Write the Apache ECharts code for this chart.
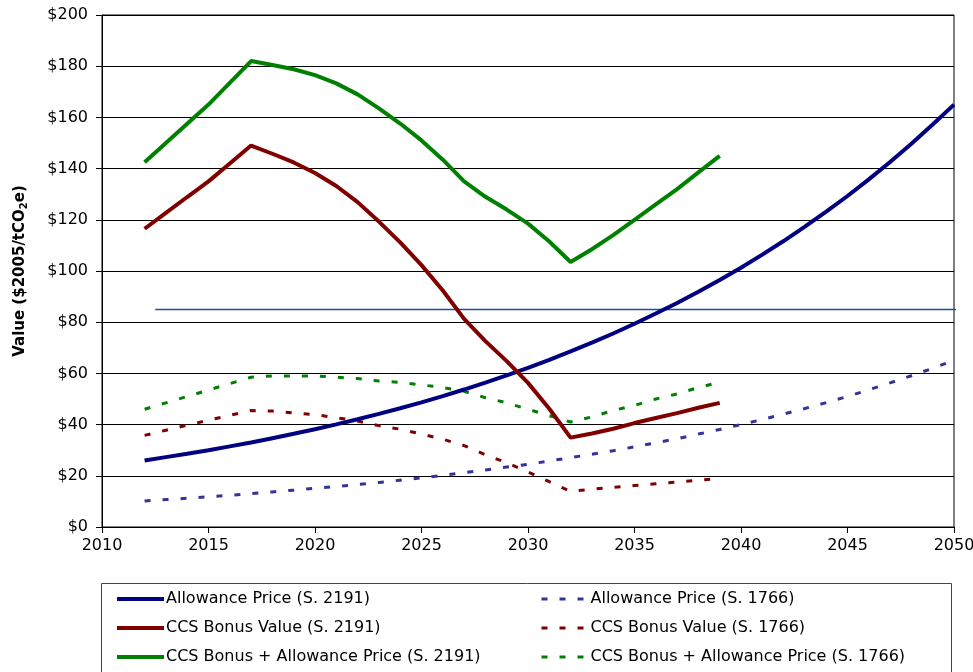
<!DOCTYPE html>
<html lang="en">
<head>
    <meta charset="UTF-8">
    <title>Allowance Price and CCS Bonus Value</title>
    <script src="https://cdn.jsdelivr.net/npm/echarts@6/dist/echarts.min.js"></script>
    <style>
        html, body { margin: 0; padding: 0; background: #fff; }
        #main { width: 973px; height: 672px; }
    </style>
</head>
<body>
<div id="main"></div>
<script>
    // years
    var yearsLong = [2012,2013,2014,2015,2016,2017,2018,2019,2020,2021,2022,2023,2024,2025,2026,2027,2028,2029,2030,
        2031,2032,2033,2034,2035,2036,2037,2038,2039,2040,2041,2042,2043,2044,2045,2046,2047,2048,2049,2050];
    var yearsShort = [2012,2013,2014,2015,2016,2017,2018,2019,2020,2021,2022,2023,2024,2025,2026,2027,2028,2029,2030,
        2031,2032,2033,2034,2035,2036,2037,2038,2039];

    // S. 2191
    var allow2191 = [26,27.3,28.6,30,31.5,33,34.7,36.4,38.2,40.1,42.1,44.2,46.4,48.7,51.1,53.7,56.4,59.2,62.2,
        65.3,68.6,72,75.6,79.4,83.4,87.5,91.9,96.5,101.3,106.4,111.7,117.3,123.2,129.3,135.8,142.6,149.7,157.2,165];
    var bonus2191 = [116.5,122.7,128.9,135,142,149,145.8,142.4,138.3,133.2,126.9,119.3,111.2,102.3,92.4,81.3,72.6,64.8,56.3,
        46.2,34.9,36.5,38.4,40.6,42.6,44.5,46.6,48.5];
    var total2191 = [142.5,150,157.5,165,173.5,182,180.5,178.8,176.5,173.3,169,163.5,157.6,151,143.5,135,129,124,118.5,
        111.5,103.5,108.5,114,120,126,132,138.5,145];

    // S. 1766
    var allow1766 = [10.2,10.7,11.2,11.8,12.4,13,13.7,14.4,15.1,15.8,16.6,17.4,18.3,19.2,20.2,21.2,22.3,23.4,24.5,
        25.8,27.1,28.4,29.8,31.3,32.9,34.5,36.3,38.1,40,42,44.1,46.3,48.6,51,53.6,56.3,59.1,62,65.1];
    var bonus1766 = [35.8,37.8,39.8,41.7,43.6,45.5,45.3,44.6,43.9,42.7,41.4,39.6,38.2,36.3,34.3,31.8,28.2,25.1,21.5,
        17.7,13.9,14.8,15.5,16.2,16.9,17.6,18.3,19];
    var total1766 = [46,48.5,51,53.5,56,58.5,59,59,59,58.5,58,57,56.5,55.5,54.5,53,50.5,48.5,46,
        43.5,41,43,45.5,47.5,50,52,54.5,56.5];

    // thin reference line
    var refYears = [2012.5, 2050.9];
    var refValues = [84.96, 84.96];

    var names = ['Allowance Price (S. 2191)', 'CCS Bonus Value (S. 2191)', 'CCS Bonus + Allowance Price (S. 2191)',
        'Allowance Price (S. 1766)', 'CCS Bonus Value (S. 1766)', 'CCS Bonus + Allowance Price (S. 1766)'];

    function pairs(xs, ys) {
        var out = [];
        for (var i = 0; i < ys.length; i++) out.push([xs[i], ys[i]]);
        return out;
    }

    function solid(name, xs, ys, color) {
        return {
            name: name, type: 'line', data: pairs(xs, ys), symbol: 'none', smooth: false,
            lineStyle: { color: color, width: 4 }, itemStyle: { color: color }, z: 3
        };
    }
    function dashed(name, xs, ys, color) {
        return {
            name: name, type: 'line', data: pairs(xs, ys), symbol: 'none', smooth: false,
            lineStyle: { color: color, width: 3, type: [6, 12] }, itemStyle: { color: color }, z: 2
        };
    }

    var chart = echarts.init(document.getElementById('main'));
    var font = 'DejaVu Sans, Liberation Sans, sans-serif';
    var legendBase = {
        orient: 'vertical', top: 591, itemGap: 13, padding: 0,
        itemWidth: 47, itemHeight: 14,
        itemStyle: { opacity: 0 },
        textStyle: { color: '#000', fontSize: 16, fontFamily: font, padding: [0, 0, 0, -3] }
    };
    var option = {
        animation: false,
        textStyle: { fontFamily: font },
        grid: {
            left: 102, right: 19, top: 15, bottom: 145,
            outerBoundsMode: 'none', containLabel: false,
            show: true, borderColor: '#000', borderWidth: 1
        },
        xAxis: {
            type: 'value', min: 2010, max: 2050, interval: 5,
            axisLine: { lineStyle: { color: '#000', width: 1 } },
            axisTick: { show: true, length: 6, lineStyle: { color: '#000' } },
            axisLabel: { color: '#000', fontSize: 16, margin: 11, fontFamily: font, formatter: function (v) { return String(v); } },
            splitLine: { show: false }
        },
        yAxis: {
            type: 'value', min: 0, max: 200, interval: 20,
            name: '{a|Value ($2005/tCO}{s|2}{a|e)}',
            nameLocation: 'middle', nameGap: 73,
            nameTextStyle: {
                rich: {
                    a: { fontSize: 15, fontWeight: 'bold', color: '#000', fontFamily: font, lineHeight: 18 },
                    s: { fontSize: 10, fontWeight: 'bold', color: '#000', fontFamily: font, lineHeight: 18, padding: [8, 0, 0, 0] }
                }
            },
            axisLine: { show: true, lineStyle: { color: '#000', width: 1 } },
            axisTick: { show: true, length: 6, lineStyle: { color: '#000' } },
            axisLabel: { color: '#000', fontSize: 16, margin: 14, fontFamily: font, formatter: '${value}' },
            splitLine: { show: true, lineStyle: { color: '#000', width: 1 } }
        },
        legend: [
            Object.assign({}, legendBase, { left: 115, lineStyle: { width: 4 }, data: names.slice(0, 3) }),
            Object.assign({}, legendBase, { left: 540, lineStyle: { width: 3 }, data: names.slice(3) })
        ],
        graphic: [
            {
                type: 'rect', left: 101, top: 583, silent: true, z: -1,
                shape: { width: 850, height: 100 },
                style: { fill: '#fff', stroke: '#444', lineWidth: 1 }
            }
        ],
        series: [
            solid(names[0], yearsLong, allow2191, '#000080'),
            solid(names[1], yearsShort, bonus2191, '#800000'),
            solid(names[2], yearsShort, total2191, '#008000'),
            dashed(names[3], yearsLong, allow1766, '#333399'),
            dashed(names[4], yearsShort, bonus1766, '#800000'),
            dashed(names[5], yearsShort, total1766, '#008000'),
            {
                name: 'ref', type: 'line', data: pairs(refYears, refValues), symbol: 'none',
                clip: false, silent: true, z: 1,
                lineStyle: { color: '#1a4ca8', width: 1.5 }
            }
        ]
    };
    chart.setOption(option);
</script>
</body>
</html>
